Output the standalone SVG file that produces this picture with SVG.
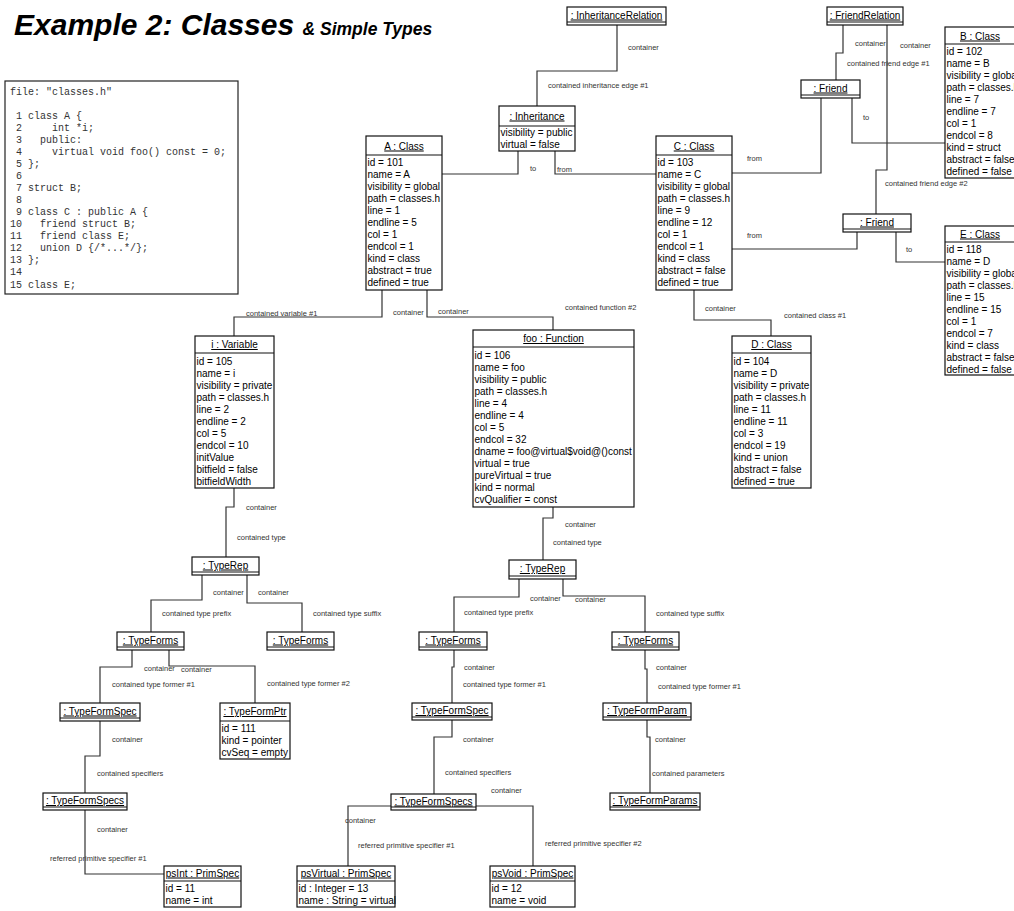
<svg xmlns="http://www.w3.org/2000/svg" width="1014" height="911" viewBox="0 0 1014 911">
<style>
  .bg{fill:#fff}
  .box{fill:#fff;stroke:#111;stroke-width:1.2}
  .sep{stroke:#111;stroke-width:1.2}
  .t{font-family:"Liberation Sans",Arial,sans-serif;font-size:10px;fill:#000}
  .h{text-anchor:middle;text-decoration:underline}
  .lbl{font-family:"Liberation Sans",Arial,sans-serif;font-size:7.5px;fill:#333}
  .cn{fill:none;stroke:#333;stroke-width:1.2}
  .code{font-family:"Liberation Mono","Courier New",monospace;font-size:10px;fill:#333;white-space:pre}
  .ttl{font-family:"Liberation Sans",Arial,sans-serif;font-weight:bold;font-style:italic;fill:#000}
</style>
<rect class="bg" x="0" y="0" width="1014" height="911"/>

<!-- heading -->
<g id="title">
  <text class="ttl" x="14" y="35" font-size="30">Example 2: Classes <tspan font-size="17.5">&amp; Simple Types</tspan></text>
</g>

<!-- source listing -->
<g id="source" xml:space="preserve">
  <rect x="5" y="81" width="233" height="213" fill="#fff" stroke="#222" stroke-width="1.2"/>
  <text class="code" x="10" y="94.5">file: "classes.h"</text>
  <text class="code" x="10" y="118.5"> 1 class A {</text>
  <text class="code" x="10" y="130.6"> 2     int *i;</text>
  <text class="code" x="10" y="142.6"> 3   public:</text>
  <text class="code" x="10" y="154.7"> 4     virtual void foo() const = 0;</text>
  <text class="code" x="10" y="166.8"> 5 };</text>
  <text class="code" x="10" y="178.9"> 6</text>
  <text class="code" x="10" y="190.9"> 7 struct B;</text>
  <text class="code" x="10" y="203.0"> 8</text>
  <text class="code" x="10" y="215.1"> 9 class C : public A {</text>
  <text class="code" x="10" y="227.1">10   friend struct B;</text>
  <text class="code" x="10" y="239.2">11   friend class E;</text>
  <text class="code" x="10" y="251.3">12   union D {/*...*/};</text>
  <text class="code" x="10" y="263.4">13 };</text>
  <text class="code" x="10" y="275.4">14</text>
  <text class="code" x="10" y="287.5">15 class E;</text>
</g>

<!-- connectors -->
<g id="connectors">
  <polyline class="cn" points="617,25 617,71 537,71 537,106"/>
  <polyline class="cn" points="518,151 518,174 442,174"/>
  <polyline class="cn" points="555,151 555,174 656,174"/>
  <polyline class="cn" points="843,25 843,53 836,53 836,80"/>
  <polyline class="cn" points="887,25 887,170 876,170 876,214"/>
  <polyline class="cn" points="852,98 852,143 945,143"/>
  <polyline class="cn" points="732,173 821,173 821,98"/>
  <polyline class="cn" points="732,249 857,249 857,232"/>
  <polyline class="cn" points="896,232 896,262 945,262"/>
  <polyline class="cn" points="382,290 382,317 234,317 234,336"/>
  <polyline class="cn" points="427,290 427,317 553,317 553,330"/>
  <polyline class="cn" points="694,290 694,320 771,320 771,336"/>
  <polyline class="cn" points="234,488 234,507 226,507 226,557"/>
  <polyline class="cn" points="553,507 553,518 543,518 543,560"/>
  <polyline class="cn" points="202,575 202,600 151,600 151,632"/>
  <polyline class="cn" points="247,575 247,603 302,603 302,632"/>
  <polyline class="cn" points="132,650 132,667 100,667 100,703"/>
  <polyline class="cn" points="169,650 169,666 255,666 255,703"/>
  <polyline class="cn" points="100,721 100,756 85,756 85,793"/>
  <polyline class="cn" points="85,810 85,874 164,874"/>
  <polyline class="cn" points="519,579 519,597 454,597 454,632"/>
  <polyline class="cn" points="563,579 563,596 645,596 645,632"/>
  <polyline class="cn" points="454,650 454,667 452,667 452,703"/>
  <polyline class="cn" points="645,650 645,669 647,669 647,703"/>
  <polyline class="cn" points="647,720 647,737 650,737 650,793"/>
  <polyline class="cn" points="452,720 452,737 434,737 434,794"/>
  <polyline class="cn" points="391,806 348,806 348,866"/>
  <polyline class="cn" points="476,806 533,806 533,866"/>

  <text class="lbl" x="628" y="49.5">container</text>
  <text class="lbl" x="548" y="88">contained inheritance edge #1</text>
  <text class="lbl" x="530" y="171">to</text>
  <text class="lbl" x="557" y="171.5">from</text>
  <text class="lbl" x="855" y="45.5">container</text>
  <text class="lbl" x="847" y="65.5">contained friend edge #1</text>
  <text class="lbl" x="900" y="47.5">container</text>
  <text class="lbl" x="885" y="186">contained friend edge #2</text>
  <text class="lbl" x="863" y="120">to</text>
  <text class="lbl" x="747" y="161">from</text>
  <text class="lbl" x="747" y="237.5">from</text>
  <text class="lbl" x="906" y="252">to</text>
  <text class="lbl" x="393" y="314.5">container</text>
  <text class="lbl" x="246" y="316">contained variable #1</text>
  <text class="lbl" x="438" y="313.5">container</text>
  <text class="lbl" x="565" y="310">contained function #2</text>
  <text class="lbl" x="705" y="311">container</text>
  <text class="lbl" x="784" y="318">contained class #1</text>
  <text class="lbl" x="246" y="509.5">container</text>
  <text class="lbl" x="237" y="540">contained type</text>
  <text class="lbl" x="565" y="526.5">container</text>
  <text class="lbl" x="553" y="544.5">contained type</text>
  <text class="lbl" x="213" y="594.5">container</text>
  <text class="lbl" x="162" y="615.5">contained type prefix</text>
  <text class="lbl" x="258" y="594.5">container</text>
  <text class="lbl" x="313" y="615.5">contained type suffix</text>
  <text class="lbl" x="144" y="670.5">container</text>
  <text class="lbl" x="112" y="686.5">contained type former #1</text>
  <text class="lbl" x="181" y="671.5">container</text>
  <text class="lbl" x="267" y="685.5">contained type former #2</text>
  <text class="lbl" x="112" y="741.5">container</text>
  <text class="lbl" x="97" y="775.5">contained specifiers</text>
  <text class="lbl" x="97" y="831.5">container</text>
  <text class="lbl" x="50" y="860.5">referred primitive specifier #1</text>
  <text class="lbl" x="530" y="600.5">container</text>
  <text class="lbl" x="464" y="614.5">contained type prefix</text>
  <text class="lbl" x="575" y="601.5">container</text>
  <text class="lbl" x="656" y="615.5">contained type suffix</text>
  <text class="lbl" x="464" y="669.5">container</text>
  <text class="lbl" x="463" y="686.5">contained type former #1</text>
  <text class="lbl" x="656" y="669.5">container</text>
  <text class="lbl" x="658" y="688.5">contained type former #1</text>
  <text class="lbl" x="655" y="741.5">container</text>
  <text class="lbl" x="652" y="775.5">contained parameters</text>
  <text class="lbl" x="463" y="741.5">container</text>
  <text class="lbl" x="445" y="774.5">contained specifiers</text>
  <text class="lbl" x="345" y="822.5">container</text>
  <text class="lbl" x="358" y="847.5">referred primitive specifier #1</text>
  <text class="lbl" x="491" y="792.5">container</text>
  <text class="lbl" x="545" y="845.5">referred primitive specifier #2</text>
</g>

<!-- object nodes -->
<g id="inheritanceRelation">
  <rect class="box" x="567" y="7" width="99" height="18"/>
  <line class="sep" x1="567" y1="22" x2="666" y2="22"/>
  <text class="t h" x="616.5" y="18.5">: InheritanceRelation</text>
</g>

<g id="friendRelation">
  <rect class="box" x="827" y="7" width="76" height="18"/>
  <line class="sep" x1="827" y1="22" x2="903" y2="22"/>
  <text class="t h" x="865" y="18.5">: FriendRelation</text>
</g>

<g id="inheritance">
  <rect class="box" x="499" y="106" width="76" height="45"/>
  <line class="sep" x1="499" y1="126" x2="575" y2="126"/>
  <text class="t h" x="537" y="119.5">: Inheritance</text>
  <text class="t" x="500.5" y="135.5">visibility = public</text>
  <text class="t" x="500.5" y="147.5">virtual = false</text>
</g>

<g id="classA">
  <rect class="box" x="366" y="136" width="76" height="154"/>
  <line class="sep" x1="366" y1="155" x2="442" y2="155"/>
  <text class="t h" x="404" y="149.5">A : Class</text>
  <text class="t" x="367.5" y="165.5">id = 101</text>
  <text class="t" x="367.5" y="177.5">name = A</text>
  <text class="t" x="367.5" y="189.5">visibility = global</text>
  <text class="t" x="367.5" y="201.5">path = classes.h</text>
  <text class="t" x="367.5" y="213.5">line = 1</text>
  <text class="t" x="367.5" y="225.5">endline = 5</text>
  <text class="t" x="367.5" y="237.5">col = 1</text>
  <text class="t" x="367.5" y="249.5">endcol = 1</text>
  <text class="t" x="367.5" y="261.5">kind = class</text>
  <text class="t" x="367.5" y="273.5">abstract = true</text>
  <text class="t" x="367.5" y="285.5">defined = true</text>
</g>

<g id="classC">
  <rect class="box" x="656" y="136" width="76" height="154"/>
  <line class="sep" x1="656" y1="155" x2="732" y2="155"/>
  <text class="t h" x="694" y="149.5">C : Class</text>
  <text class="t" x="657.5" y="165.5">id = 103</text>
  <text class="t" x="657.5" y="177.5">name = C</text>
  <text class="t" x="657.5" y="189.5">visibility = global</text>
  <text class="t" x="657.5" y="201.5">path = classes.h</text>
  <text class="t" x="657.5" y="213.5">line = 9</text>
  <text class="t" x="657.5" y="225.5">endline = 12</text>
  <text class="t" x="657.5" y="237.5">col = 1</text>
  <text class="t" x="657.5" y="249.5">endcol = 1</text>
  <text class="t" x="657.5" y="261.5">kind = class</text>
  <text class="t" x="657.5" y="273.5">abstract = false</text>
  <text class="t" x="657.5" y="285.5">defined = true</text>
</g>

<g id="friend1">
  <rect class="box" x="801" y="80" width="59" height="18"/>
  <line class="sep" x1="801" y1="95" x2="860" y2="95"/>
  <text class="t h" x="830.5" y="91.5">: Friend</text>
</g>

<g id="friend2">
  <rect class="box" x="843" y="214" width="68" height="18"/>
  <line class="sep" x1="843" y1="229" x2="911" y2="229"/>
  <text class="t h" x="877" y="225.5">: Friend</text>
</g>

<g id="classB">
  <rect class="box" x="945" y="27" width="80" height="151"/>
  <line class="sep" x1="945" y1="44" x2="1014" y2="44"/>
  <text class="t h" x="980" y="39.5">B : Class</text>
  <text class="t" x="946.5" y="54.5">id = 102</text>
  <text class="t" x="946.5" y="66.5">name = B</text>
  <text class="t" x="946.5" y="78.5">visibility = global</text>
  <text class="t" x="946.5" y="90.5">path = classes.h</text>
  <text class="t" x="946.5" y="102.5">line = 7</text>
  <text class="t" x="946.5" y="114.5">endline = 7</text>
  <text class="t" x="946.5" y="126.5">col = 1</text>
  <text class="t" x="946.5" y="138.5">endcol = 8</text>
  <text class="t" x="946.5" y="150.5">kind = struct</text>
  <text class="t" x="946.5" y="162.5">abstract = false</text>
  <text class="t" x="946.5" y="174.5">defined = false</text>
</g>

<g id="classE">
  <rect class="box" x="945" y="226" width="80" height="149"/>
  <line class="sep" x1="945" y1="242" x2="1014" y2="242"/>
  <text class="t h" x="980" y="237.5">E : Class</text>
  <text class="t" x="946.5" y="252.5">id = 118</text>
  <text class="t" x="946.5" y="264.5">name = D</text>
  <text class="t" x="946.5" y="276.5">visibility = global</text>
  <text class="t" x="946.5" y="288.5">path = classes.h</text>
  <text class="t" x="946.5" y="300.5">line = 15</text>
  <text class="t" x="946.5" y="312.5">endline = 15</text>
  <text class="t" x="946.5" y="324.5">col = 1</text>
  <text class="t" x="946.5" y="336.5">endcol = 7</text>
  <text class="t" x="946.5" y="348.5">kind = class</text>
  <text class="t" x="946.5" y="360.5">abstract = false</text>
  <text class="t" x="946.5" y="372.5">defined = false</text>
</g>

<g id="variableI">
  <rect class="box" x="195" y="336" width="79" height="152"/>
  <line class="sep" x1="195" y1="353" x2="274" y2="353"/>
  <text class="t h" x="234.5" y="348">i : Variable</text>
  <text class="t" x="196.5" y="364.5">id = 105</text>
  <text class="t" x="196.5" y="376.5">name = i</text>
  <text class="t" x="196.5" y="388.5">visibility = private</text>
  <text class="t" x="196.5" y="400.5">path = classes.h</text>
  <text class="t" x="196.5" y="412.5">line = 2</text>
  <text class="t" x="196.5" y="424.5">endline = 2</text>
  <text class="t" x="196.5" y="436.5">col = 5</text>
  <text class="t" x="196.5" y="448.5">endcol = 10</text>
  <text class="t" x="196.5" y="460.5">initValue</text>
  <text class="t" x="196.5" y="472.5">bitfield = false</text>
  <text class="t" x="196.5" y="484.5">bitfieldWidth</text>
</g>

<g id="functionFoo">
  <rect class="box" x="473" y="330" width="161" height="177"/>
  <line class="sep" x1="473" y1="347" x2="634" y2="347"/>
  <text class="t h" x="553.5" y="342">foo : Function</text>
  <text class="t" x="474.5" y="358.5">id = 106</text>
  <text class="t" x="474.5" y="370.5">name = foo</text>
  <text class="t" x="474.5" y="382.5">visibility = public</text>
  <text class="t" x="474.5" y="394.5">path = classes.h</text>
  <text class="t" x="474.5" y="406.5">line = 4</text>
  <text class="t" x="474.5" y="418.5">endline = 4</text>
  <text class="t" x="474.5" y="430.5">col = 5</text>
  <text class="t" x="474.5" y="442.5">endcol = 32</text>
  <text class="t" x="474.5" y="454.5">dname = foo@virtual$void@()const</text>
  <text class="t" x="474.5" y="466.5">virtual = true</text>
  <text class="t" x="474.5" y="478.5">pureVirtual = true</text>
  <text class="t" x="474.5" y="490.5">kind = normal</text>
  <text class="t" x="474.5" y="502.5">cvQualifier = const</text>
</g>

<g id="classD">
  <rect class="box" x="732" y="336" width="79" height="152"/>
  <line class="sep" x1="732" y1="353" x2="811" y2="353"/>
  <text class="t h" x="771.5" y="348">D : Class</text>
  <text class="t" x="733.5" y="364.5">id = 104</text>
  <text class="t" x="733.5" y="376.5">name = D</text>
  <text class="t" x="733.5" y="388.5">visibility = private</text>
  <text class="t" x="733.5" y="400.5">path = classes.h</text>
  <text class="t" x="733.5" y="412.5">line = 11</text>
  <text class="t" x="733.5" y="424.5">endline = 11</text>
  <text class="t" x="733.5" y="436.5">col = 3</text>
  <text class="t" x="733.5" y="448.5">endcol = 19</text>
  <text class="t" x="733.5" y="460.5">kind = union</text>
  <text class="t" x="733.5" y="472.5">abstract = false</text>
  <text class="t" x="733.5" y="484.5">defined = true</text>
</g>

<g id="typeRepI">
  <rect class="box" x="192" y="557" width="67" height="18"/>
  <line class="sep" x1="192" y1="572" x2="259" y2="572"/>
  <text class="t h" x="225.5" y="568.5">: TypeRep</text>
</g>

<g id="typeFormsPrefixI">
  <rect class="box" x="117" y="632" width="67" height="18"/>
  <line class="sep" x1="117" y1="647" x2="184" y2="647"/>
  <text class="t h" x="150.5" y="643.5">: TypeForms</text>
</g>

<g id="typeFormsSuffixI">
  <rect class="box" x="267" y="632" width="67" height="18"/>
  <line class="sep" x1="267" y1="647" x2="334" y2="647"/>
  <text class="t h" x="300.5" y="643.5">: TypeForms</text>
</g>

<g id="typeFormSpecI">
  <rect class="box" x="60" y="703" width="80" height="18"/>
  <line class="sep" x1="60" y1="718" x2="140" y2="718"/>
  <text class="t h" x="100" y="714.5">: TypeFormSpec</text>
</g>

<g id="typeFormPtr">
  <rect class="box" x="220" y="703" width="70" height="56"/>
  <line class="sep" x1="220" y1="721" x2="290" y2="721"/>
  <text class="t h" x="255" y="715">: TypeFormPtr</text>
  <text class="t" x="221.5" y="731.5">id = 111</text>
  <text class="t" x="221.5" y="743.5">kind = pointer</text>
  <text class="t" x="221.5" y="755.5">cvSeq = empty</text>
</g>

<g id="typeFormSpecsI">
  <rect class="box" x="43" y="793" width="84" height="17"/>
  <line class="sep" x1="43" y1="807" x2="127" y2="807"/>
  <text class="t h" x="85" y="804">: TypeFormSpecs</text>
</g>

<g id="psInt">
  <rect class="box" x="164" y="866" width="77" height="41"/>
  <line class="sep" x1="164" y1="881" x2="241" y2="881"/>
  <text class="t h" x="202.5" y="876.5">psInt : PrimSpec</text>
  <text class="t" x="165.5" y="891.5">id = 11</text>
  <text class="t" x="165.5" y="903.5">name = int</text>
</g>

<g id="typeRepFoo">
  <rect class="box" x="509" y="560" width="67" height="19"/>
  <line class="sep" x1="509" y1="576" x2="576" y2="576"/>
  <text class="t h" x="542.5" y="572">: TypeRep</text>
</g>

<g id="typeFormsPrefixFoo">
  <rect class="box" x="419" y="632" width="68" height="18"/>
  <line class="sep" x1="419" y1="647" x2="487" y2="647"/>
  <text class="t h" x="453" y="643.5">: TypeForms</text>
</g>

<g id="typeFormsSuffixFoo">
  <rect class="box" x="612" y="632" width="67" height="18"/>
  <line class="sep" x1="612" y1="647" x2="679" y2="647"/>
  <text class="t h" x="645.5" y="643.5">: TypeForms</text>
</g>

<g id="typeFormSpecFoo">
  <rect class="box" x="412" y="703" width="80" height="17"/>
  <line class="sep" x1="412" y1="717" x2="492" y2="717"/>
  <text class="t h" x="452" y="714">: TypeFormSpec</text>
</g>

<g id="typeFormParam">
  <rect class="box" x="603" y="703" width="88" height="17"/>
  <line class="sep" x1="603" y1="717" x2="691" y2="717"/>
  <text class="t h" x="647" y="714">: TypeFormParam</text>
</g>

<g id="typeFormSpecsFoo">
  <rect class="box" x="391" y="794" width="85" height="16"/>
  <line class="sep" x1="391" y1="807" x2="476" y2="807"/>
  <text class="t h" x="433.5" y="804.5">: TypeFormSpecs</text>
</g>

<g id="typeFormParams">
  <rect class="box" x="610" y="793" width="90" height="17"/>
  <line class="sep" x1="610" y1="807" x2="700" y2="807"/>
  <text class="t h" x="655" y="804">: TypeFormParams</text>
</g>

<g id="psVirtual">
  <rect class="box" x="297" y="866" width="98" height="41"/>
  <line class="sep" x1="297" y1="881" x2="395" y2="881"/>
  <text class="t h" x="346" y="876.5">psVirtual : PrimSpec</text>
  <text class="t" x="298.5" y="891.5">id : Integer = 13</text>
  <text class="t" x="298.5" y="903.5">name : String = virtual</text>
</g>

<g id="psVoid">
  <rect class="box" x="490" y="866" width="85" height="41"/>
  <line class="sep" x1="490" y1="881" x2="575" y2="881"/>
  <text class="t h" x="532.5" y="876.5">psVoid : PrimSpec</text>
  <text class="t" x="491.5" y="891.5">id = 12</text>
  <text class="t" x="491.5" y="903.5">name = void</text>
</g>
</svg>
